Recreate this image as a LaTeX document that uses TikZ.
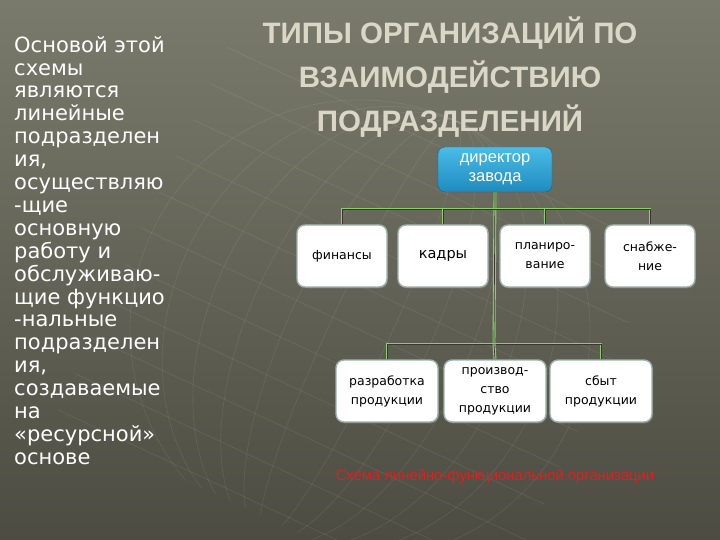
\documentclass[tikz,border=0pt]{standalone}
\usepackage{fontspec}
\setmainfont{DejaVu Sans}
\newfontfamily\arialfont{Liberation Sans}
\usetikzlibrary{shadows}
\pgfdeclarelayer{back}
\pgfdeclarelayer{bg}
\pgfsetlayers{back,bg,main}
\definecolor{bgtop}{HTML}{7A7A6C}
\definecolor{bgbot}{HTML}{4C4C42}
\definecolor{titlecol}{HTML}{DAD7C6}
\definecolor{linegreen}{HTML}{8CCB6E}
\definecolor{linedark}{HTML}{363A2C}
\definecolor{boxedge}{HTML}{9BB3A8}
\definecolor{dirtop}{HTML}{4ABCE8}
\definecolor{dirbot}{HTML}{1E8BBE}
\definecolor{captred}{HTML}{E21E1E}
\tikzset{
    unit/.style={draw=boxedge, line width=1.4pt, fill=white, rounded corners=8pt,
        minimum width=90pt, minimum height=62pt, inner sep=1pt, align=center,
        font=\fontsize{12.5}{19}\selectfont, text=black,
        drop shadow={shadow xshift=1pt, shadow yshift=-1.5pt, opacity=0.5}},
    wideunit/.style={unit, minimum width=102pt},
    link/.style={draw=linegreen, line width=1.1pt, double=linedark, double distance=0.7pt},
}
\begin{document}
\begin{tikzpicture}[x=1pt, y=-1pt]
    \useasboundingbox (0,0) rectangle (720,540);
    \begin{pgfonlayer}{back}
        \shade[top color=bgtop, bottom color=bgbot] (0,0) rectangle (720,540);
        % faint globe behind the chart
        \begin{scope}[white, opacity=0.07, line width=0.8pt, rotate around={-25:(360,330)}]
            \clip (0,0) rectangle (720,540);
            \foreach \r in {30,70,...,230}
                \draw (360,330) ellipse ({\r} and 230);
            \foreach \h in {-200,-160,...,200}
                \draw (120,330+\h) -- (600,330+\h);
        \end{scope}
    \end{pgfonlayer}

    % left column
    \node (lefttext) [anchor=north west, inner sep=0pt, align=left, text=white,
        font=\fontsize{21}{22.9}\selectfont] at (14,36)
        {Основой этой\\ схемы\\ являются\\ линейные\\ подразделен\\ ия,\\
         осуществляю\\ -щие\\ основную\\ работу и\\ обслуживаю-\\ щие функцио\\
         -нальные\\ подразделен\\ ия,\\ создаваемые\\ на\\ «ресурсной»\\ основе};

    % title
    \node (title) [align=center, text=titlecol,
        font=\arialfont\bfseries\fontsize{29.5}{44}\selectfont] at (450,77)
        {ТИПЫ ОРГАНИЗАЦИЙ ПО\\ ВЗАИМОДЕЙСТВИЮ\\ ПОДРАЗДЕЛЕНИЙ};

    % chart
    \node (dir) [rounded corners=7pt, top color=dirtop, bottom color=dirbot,
        draw=dirbot!70!black, minimum width=114pt, minimum height=45pt, inner sep=1pt,
        align=center, text=white, font=\arialfont\fontsize{16.5}{19}\selectfont]
        at (495,169.5) {директор\\ завода};

    \node (fin) [unit] at (342,256) {финансы};
    \node (kadr) [unit, font=\fontsize{14.5}{19}\selectfont] at (443,256) {кадры};
    \node (plan) [unit] at (545,256) {планиро-\\ вание};
    \node (snab) [unit] at (650,256) {снабже-\\ ние};

    \node (razr) [wideunit] at (387,391) {разработка\\ продукции};
    \node (proizv) [wideunit] at (495,391) {производ-\\ ство\\ продукции};
    \node (sbyt) [wideunit] at (601,391) {сбыт\\ продукции};

    \node (caption) [text=captred, font=\arialfont\fontsize{14.8}{16}\selectfont]
        at (495,477) {Схема линейно-функциональной организации};

    \coordinate (topjoin) at (494,209);
    \coordinate (lowjoin) at (494,344);

    \begin{pgfonlayer}{bg}
        \draw[link] (dir.south) -- (lowjoin);
        \draw[link] (fin.north) |- (snab.north |- topjoin) -- (snab.north);
        \draw[link] (kadr.north) -- (kadr.north |- topjoin);
        \draw[link] (plan.north) -- (plan.north |- topjoin);
        \draw[link] (razr.north) |- (sbyt.north |- lowjoin) -- (sbyt.north);
        \draw[link] (proizv.north) -- (lowjoin);
    \end{pgfonlayer}
\end{tikzpicture}
\end{document}
